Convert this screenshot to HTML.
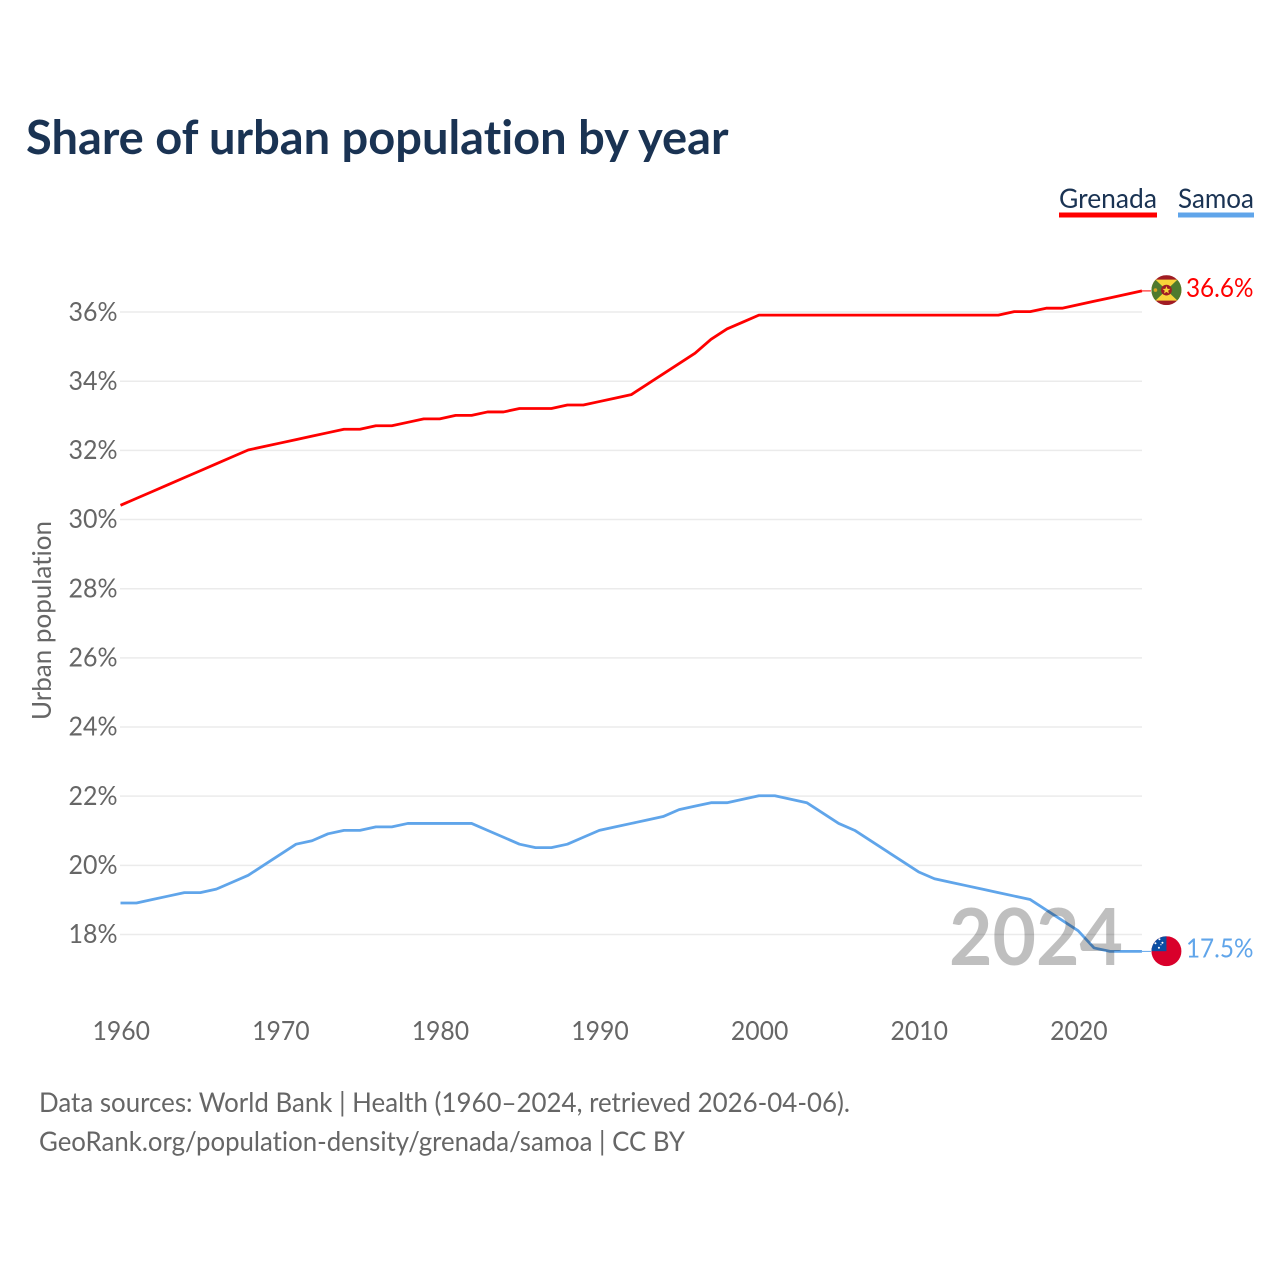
<!DOCTYPE html>
<html lang="en">
<head>
<meta charset="utf-8">
<title>Share of urban population by year</title>
<style>
html,body{margin:0;padding:0;background:#fff;}
svg{display:block;font-family:"Lato","Carlito","Liberation Sans",sans-serif;font-variant-ligatures:none;}
</style>
</head>
<body>
<svg id="chart" width="1280" height="1280" viewBox="0 0 1280 1280" xmlns="http://www.w3.org/2000/svg">
  <defs>
    <clipPath id="flag-clip"><circle cx="0" cy="0" r="15"/></clipPath>
  </defs>
  <rect width="1280" height="1280" fill="#fff"/>
  <text x="26" y="154" font-size="47" font-weight="700" fill="#1a3353" textLength="702.5" lengthAdjust="spacingAndGlyphs">Share of urban population by year</text>

  <g>
    <g>
      <text x="1059" y="208" font-size="27" fill="#1a3353" textLength="98" lengthAdjust="spacingAndGlyphs">Grenada</text>
      <rect x="1059" y="212.5" width="98" height="5" fill="#ff0000"/>
    </g>
    <g>
      <text x="1178" y="208" font-size="27" fill="#1a3353" textLength="76" lengthAdjust="spacingAndGlyphs">Samoa</text>
      <rect x="1178" y="212.5" width="76" height="5" fill="#60a5ea"/>
    </g>
  </g>

  <g id="grid"></g>
  <g id="yticks"></g>
  <g id="xticks"></g>
  <text transform="translate(51,720) rotate(-90)" font-size="26" fill="#666" textLength="199" lengthAdjust="spacingAndGlyphs">Urban population</text>
  <g id="series"></g>

  <text x="949" y="965" font-size="79" font-weight="700" fill="#000" fill-opacity="0.25" textLength="174" lengthAdjust="spacingAndGlyphs">2024</text>

  <g id="flag-grenada">
    <g clip-path="url(#flag-clip)">
      <rect x="-15" y="-15" width="30" height="30" fill="#a01c24"/>
      <rect x="-15" y="-10.5" width="30" height="21" fill="#f8d43a"/>
      <polygon points="-11,-10.5 0,0 -11,10.5 -16,10.5 -16,-10.5" fill="#4f7a2e"/>
      <polygon points="11,-10.5 0,0 11,10.5 16,10.5 16,-10.5" fill="#4f7a2e"/>
      <circle cx="0" cy="0" r="5.4" fill="#a01c24"/>
      <polygon points="0,-4 1.1,-1.2 4,-1.2 1.7,0.6 2.5,3.4 0,1.8 -2.5,3.4 -1.7,0.6 -4,-1.2 -1.1,-1.2" fill="#f8d43a"/>
      <circle cx="-11" cy="0" r="1.8" fill="#d9a520"/>
    </g>
  </g>
  <g id="flag-samoa">
    <g clip-path="url(#flag-clip)">
      <rect x="-15" y="-15" width="30" height="30" fill="#d9002b"/>
      <rect x="-15" y="-15" width="15" height="15" fill="#0b4da2"/>
      <circle cx="-7" cy="-12" r="1" fill="#fff"/>
      <circle cx="-11" cy="-8" r="1" fill="#fff"/>
      <circle cx="-4" cy="-8.5" r="1" fill="#fff"/>
      <circle cx="-7.5" cy="-3.5" r="1" fill="#fff"/>
      <circle cx="-5.5" cy="-6.5" r="0.6" fill="#fff"/>
    </g>
  </g>
  <text id="value-grenada" font-size="26" fill="#ff0000"></text>
  <text id="value-samoa" font-size="26" fill="#60a5ea"></text>

  <g>
    <text x="39" y="1112" font-size="27" fill="#666" textLength="811" lengthAdjust="spacingAndGlyphs">Data sources: World Bank | Health (1960–2024, retrieved 2026-04-06).</text>
    <text x="39" y="1151" font-size="27" fill="#666" textLength="646" lengthAdjust="spacingAndGlyphs">GeoRank.org/population-density/grenada/samoa | CC BY</text>
  </g>
</svg>
<script>
const years = [1960,1961,1962,1963,1964,1965,1966,1967,1968,1969,1970,1971,1972,1973,1974,1975,1976,1977,1978,1979,1980,1981,1982,1983,1984,1985,1986,1987,1988,1989,1990,1991,1992,1993,1994,1995,1996,1997,1998,1999,2000,2001,2002,2003,2004,2005,2006,2007,2008,2009,2010,2011,2012,2013,2014,2015,2016,2017,2018,2019,2020,2021,2022,2023,2024];
const grenadaValues = [30.4,30.6,30.8,31.0,31.2,31.4,31.6,31.8,32.0,32.1,32.2,32.3,32.4,32.5,32.6,32.6,32.7,32.7,32.8,32.9,32.9,33.0,33.0,33.1,33.1,33.2,33.2,33.2,33.3,33.3,33.4,33.5,33.6,33.9,34.2,34.5,34.8,35.2,35.5,35.7,35.9,35.9,35.9,35.9,35.9,35.9,35.9,35.9,35.9,35.9,35.9,35.9,35.9,35.9,35.9,35.9,36.0,36.0,36.1,36.1,36.2,36.3,36.4,36.5,36.6];
const samoaValues = [18.9,18.9,19.0,19.1,19.2,19.2,19.3,19.5,19.7,20.0,20.3,20.6,20.7,20.9,21.0,21.0,21.1,21.1,21.2,21.2,21.2,21.2,21.2,21.0,20.8,20.6,20.5,20.5,20.6,20.8,21.0,21.1,21.2,21.3,21.4,21.6,21.7,21.8,21.8,21.9,22.0,22.0,21.9,21.8,21.5,21.2,21.0,20.7,20.4,20.1,19.8,19.6,19.5,19.4,19.3,19.2,19.1,19.0,18.7,18.4,18.1,17.6,17.5,17.5,17.5];
const yTickValues = [18,20,22,24,26,28,30,32,34,36];
const xTickValues = [1960,1970,1980,1990,2000,2010,2020];

const NS = 'http://www.w3.org/2000/svg';
const xScale = function (year) { return 120.5 + (year - 1960) * 15.96; };
const yScale = function (value) { return 934.5 - (value - 18) * 34.58; };
const lineY = function (value) { return yScale(value) - 0.4; };
const make = function (tag, parent) {
  const el = document.createElementNS(NS, tag);
  parent.appendChild(el);
  return el;
};

const gridGroup = document.getElementById('grid');
const yTickGroup = document.getElementById('yticks');
yTickValues.forEach(function (tick) {
  const gridLine = make('line', gridGroup);
  
  
  gridLine.setAttribute('x1', 120);
  gridLine.setAttribute('x2', 1142);
  gridLine.setAttribute('y1', yScale(tick));
  gridLine.setAttribute('y2', yScale(tick));
  gridLine.setAttribute('stroke', '#ebebeb');
  gridLine.setAttribute('stroke-width', 1.5);

  const label = make('text', yTickGroup);
  
  
  label.setAttribute('x', 68.5);
  label.setAttribute('y', yScale(tick) + 8.7);
  label.setAttribute('font-size', 26);
  label.setAttribute('fill', '#666');
  label.setAttribute('textLength', 49);
  label.setAttribute('lengthAdjust', 'spacingAndGlyphs');
  label.textContent = tick + '%';
});

const xTickGroup = document.getElementById('xticks');
xTickValues.forEach(function (tick) {
  const label = make('text', xTickGroup);
  
  
  label.setAttribute('x', xScale(tick) - 28);
  label.setAttribute('y', 1040);
  label.setAttribute('font-size', 26);
  label.setAttribute('fill', '#666');
  label.setAttribute('textLength', 57.5);
  label.setAttribute('lengthAdjust', 'spacingAndGlyphs');
  label.textContent = tick;
});

const seriesGroup = document.getElementById('series');
const lastYear = years[years.length - 1];

const grenadaLine = make('polyline', seriesGroup);


grenadaLine.setAttribute('fill', 'none');
grenadaLine.setAttribute('stroke', '#ff0000');
grenadaLine.setAttribute('stroke-width', 2.8);
grenadaLine.setAttribute('stroke-linejoin', 'round');
grenadaLine.setAttribute('points', years.map(function (y, i) { return xScale(y) + ',' + lineY(grenadaValues[i]); }).join(' '));

const samoaLine = make('polyline', seriesGroup);


samoaLine.setAttribute('fill', 'none');
samoaLine.setAttribute('stroke', '#60a5ea');
samoaLine.setAttribute('stroke-width', 2.8);
samoaLine.setAttribute('stroke-linejoin', 'round');
samoaLine.setAttribute('points', years.map(function (y, i) { return xScale(y) + ',' + lineY(samoaValues[i]); }).join(' '));

const grenadaLast = grenadaValues[grenadaValues.length - 1];
const samoaLast = samoaValues[samoaValues.length - 1];

const grenadaStub = make('line', seriesGroup);


grenadaStub.setAttribute('x1', xScale(lastYear));
grenadaStub.setAttribute('x2', xScale(lastYear) + 9);
grenadaStub.setAttribute('y1', lineY(grenadaLast));
grenadaStub.setAttribute('y2', lineY(grenadaLast));
grenadaStub.setAttribute('stroke', '#ff0000');
grenadaStub.setAttribute('stroke-width', 1);

const samoaStub = make('line', seriesGroup);


samoaStub.setAttribute('x1', xScale(lastYear));
samoaStub.setAttribute('x2', xScale(lastYear) + 9);
samoaStub.setAttribute('y1', lineY(samoaLast));
samoaStub.setAttribute('y2', lineY(samoaLast));
samoaStub.setAttribute('stroke', '#60a5ea');
samoaStub.setAttribute('stroke-width', 1);

document.getElementById('flag-grenada').setAttribute('transform', 'translate(' + (xScale(lastYear) + 24.5) + ',' + (yScale(grenadaLast) - 1.2) + ')');
document.getElementById('flag-samoa').setAttribute('transform', 'translate(' + (xScale(lastYear) + 24.5) + ',' + (yScale(samoaLast) - 0.6) + ')');

const grenadaText = document.getElementById('value-grenada');
grenadaText.setAttribute('x', xScale(lastYear) + 44);
grenadaText.setAttribute('y', yScale(grenadaLast) + 5.5);
grenadaText.setAttribute('textLength', 67.5);
grenadaText.setAttribute('lengthAdjust', 'spacingAndGlyphs');
grenadaText.textContent = grenadaLast.toFixed(1) + '%';

const samoaText = document.getElementById('value-samoa');
samoaText.setAttribute('x', xScale(lastYear) + 44);
samoaText.setAttribute('y', yScale(samoaLast) + 5.5);
samoaText.setAttribute('textLength', 67.5);
samoaText.setAttribute('lengthAdjust', 'spacingAndGlyphs');
samoaText.textContent = samoaLast.toFixed(1) + '%';
</script>
</body>
</html>
